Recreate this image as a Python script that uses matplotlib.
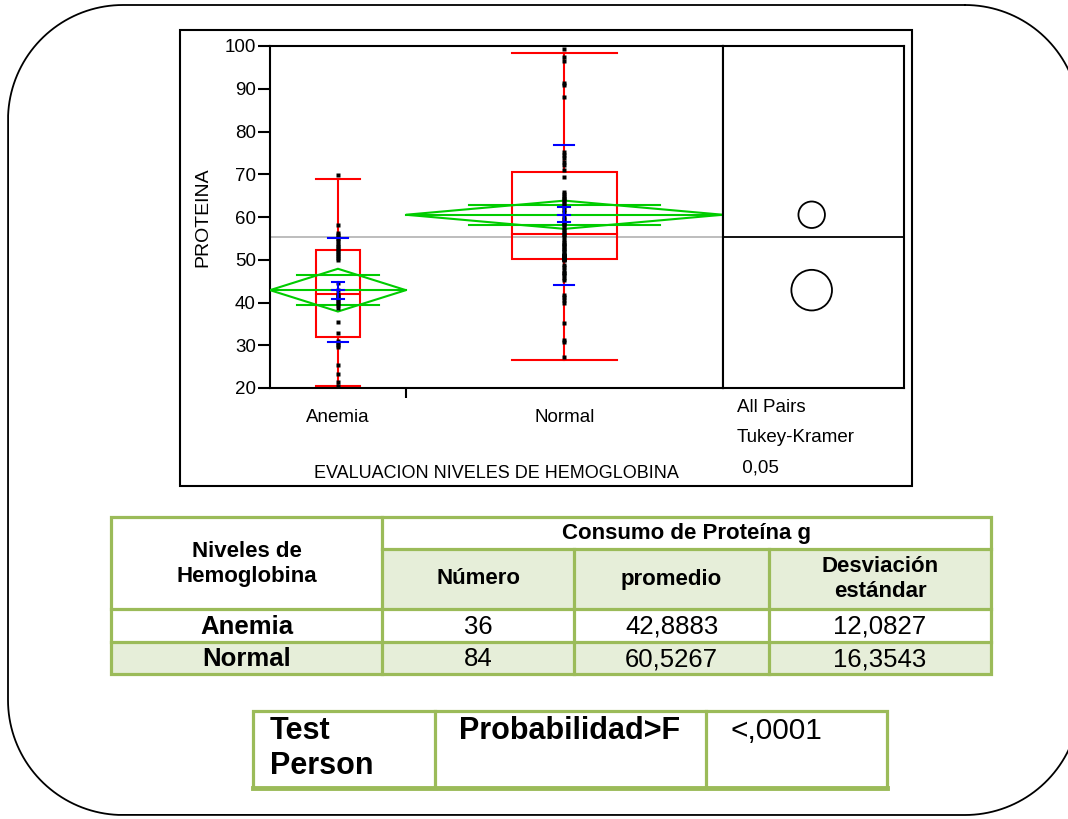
import numpy as np
import matplotlib.pyplot as plt
from matplotlib.patches import Rectangle, Polygon, Circle

plt.rcParams['font.family'] = ['Liberation Sans', 'DejaVu Sans']

## DATA
groups = ['Anemia', 'Normal']
n_obs = [36, 84]
means = [42.8883, 60.5267]
std_devs = [12.0827, 16.3543]

ci_half = [5.0, 3.3]          # half height of the means diamonds
box_q1 = [32.0, 50.2]
box_median = [42.1, 56.0]
box_q3 = [52.3, 70.6]
whisker_lo = [20.4, 26.6]
whisker_hi = [68.8, 98.3]
circle_radius = [4.75, 3.1]   # comparison circles (Tukey-Kramer)

anemia_pts = [69.8, 58.1, 56.3, 55.8, 55.3, 54.8, 54.3, 53.8, 53.3, 52.8, 52.3, 51.8,
              51.3, 50.8, 50.3, 50.0, 44.5, 42.9, 42.1, 41.5, 41.2, 40.8, 40.4, 40.0,
              39.4, 38.7, 35.5, 32.8, 30.9, 30.5, 30.1, 29.7, 25.4, 23.3, 21.3, 20.5]
normal_pts = [99.2, 97.4, 96.5, 91.3, 90.9, 88.1,
              75.3, 74.5, 73.7, 72.9, 72.2, 71.0, 69.4,
              65.9, 65.4, 64.9, 64.4, 64.2, 63.8, 63.3, 62.8, 62.3, 61.7, 61.2,
              60.1, 59.6, 59.1, 58.6, 58.4, 58.1, 57.5, 57.0, 56.5, 56.0, 55.8, 55.4,
              54.6, 54.1, 53.6, 53.4, 53.1, 52.6, 52.4, 52.1, 51.6, 51.1,
              51.05, 51.0, 50.95, 50.9, 50.85, 50.8, 50.75, 50.7, 50.65, 50.6, 50.55,
              50.5, 50.45, 50.4, 50.35, 50.3, 50.25, 50.2, 50.15, 50.1, 50.0, 49.9,
              48.8, 48.2, 47.6, 47.0, 46.8, 46.4, 45.8, 45.3,
              41.8, 41.2, 40.5, 39.9,
              35.1, 31.2, 30.8, 27.3]
points = [anemia_pts, normal_pts]

y_ticks = [20, 30, 40, 50, 60, 70, 80, 90, 100]
y_label = 'PROTEINA'
x_label = 'EVALUACION NIVELES DE HEMOGLOBINA'
compare_text = ['All Pairs', 'Tukey-Kramer', ' 0,05']

t1_first_header = 'Niveles de\nHemoglobina'
t1_group_header = 'Consumo de Proteína g'
t1_sub_headers = ['Número', 'promedio', 'Desviación\nestándar']
t2_cells = ['Test\nPerson', 'Probabilidad>F', '<,0001']

## LAYOUT
W, H = 1068, 819
RED, GREEN, BLUE = '#FF0000', '#00CC00', '#0000FF'
TGREEN, TFILL = '#9BBB59', '#E6EED9'


def fig_rect(x0, y0, x1, y1):
    # pixel box (top-left origin) -> figure fraction
    return [x0 / W, 1 - y1 / H, (x1 - x0) / W, (y1 - y0) / H]


def rounded_outline(x0, y0, x1, y1, r, n=40):
    # corner arcs of a rounded rectangle, y pointing down
    xs, ys = [], []
    corners = [(x1 - r, y0 + r, -90, 0), (x1 - r, y1 - r, 0, 90),
               (x0 + r, y1 - r, 90, 180), (x0 + r, y0 + r, 180, 270)]
    for cx_, cy_, a0, a1 in corners:
        t = np.radians(np.linspace(a0, a1, n))
        xs.extend(cx_ + r * np.cos(t))
        ys.extend(cy_ + r * np.sin(t))
    xs.append(xs[0])
    ys.append(ys[0])
    return xs, ys


fig = plt.figure(figsize=(W / 100, H / 100), dpi=100)

# background axes in pixel coordinates
bg = fig.add_axes([0, 0, 1, 1])
bg.set_xlim(0, W)
bg.set_ylim(H, 0)
bg.axis('off')

ox, oy = rounded_outline(8, 5, 1080, 815, 115)
bg.plot(ox, oy, color='black', lw=1.3, clip_on=False)
bg.add_patch(Rectangle((180, 30), 732, 456, fill=False, ec='black', lw=1.5))

# MAIN ONEWAY PLOT
ax = fig.add_axes(fig_rect(270, 46, 723, 388))
edges = np.concatenate([[0], np.cumsum(n_obs)])
centers = (edges[:-1] + edges[1:]) / 2
ax.set_xlim(edges[0], edges[-1])
ax.set_ylim(y_ticks[0], y_ticks[-1])

grand_mean = np.sum(np.array(means) * np.array(n_obs)) / np.sum(n_obs)
ax.axhline(grand_mean, color='#BDBDBD', lw=1.4, zorder=1)

px_per_unit = (723 - 270) / edges[-1]
for i in range(len(groups)):
    x0, x1, c = edges[i], edges[i + 1], centers[i]
    bh = 0.165 * n_obs[i]
    m = means[i]

    # outlier box plot
    ax.add_patch(Rectangle((c - bh, box_q1[i]), 2 * bh, box_q3[i] - box_q1[i],
                           fill=False, ec=RED, lw=1.5, zorder=2))
    ax.plot([c - bh, c + bh], [box_median[i]] * 2, color=RED, lw=1.5, zorder=2)
    ax.plot([c, c], [box_q3[i], whisker_hi[i]], color=RED, lw=1.5, zorder=2)
    ax.plot([c, c], [whisker_lo[i], box_q1[i]], color=RED, lw=1.5, zorder=2)
    ax.plot([c - bh, c + bh], [whisker_hi[i]] * 2, color=RED, lw=1.5, zorder=2)
    ax.plot([c - bh, c + bh], [whisker_lo[i]] * 2, color=RED, lw=1.5, zorder=2)

    # means diamond + overlap marks
    h = ci_half[i]
    ax.add_patch(Polygon([(x0, m), (c, m + h), (x1, m), (c, m - h)], closed=True,
                         fill=False, ec=GREEN, lw=1.5, zorder=3))
    ax.plot([x0, x1], [m, m], color=GREEN, lw=1.5, zorder=3)
    d = h / np.sqrt(2)
    ow = 0.3 * n_obs[i]
    ax.plot([c - ow, c + ow], [m + d] * 2, color=GREEN, lw=1.5, zorder=3)
    ax.plot([c - ow, c + ow], [m - d] * 2, color=GREEN, lw=1.5, zorder=3)

    # raw points
    ax.plot([c] * len(points[i]), points[i], 's', ms=2.3, color='black',
            mec='none', zorder=4)

    # mean, std err and std dev marks
    sd = std_devs[i]
    se = sd / np.sqrt(n_obs[i])
    sdw = 10 / px_per_unit
    sew = 6 / px_per_unit
    ax.plot([c - sdw, c + sdw], [m + sd] * 2, color=BLUE, lw=1.5, zorder=5)
    ax.plot([c - sdw, c + sdw], [m - sd] * 2, color=BLUE, lw=1.5, zorder=5)
    ax.plot([c, c], [m - se, m + se], color=BLUE, lw=1.5, zorder=5)
    for yy in [m - se, m, m + se]:
        ax.plot([c - sew, c + sew], [yy, yy], color=BLUE, lw=1.5, zorder=5)

ax.set_yticks(y_ticks)
ax.tick_params(axis='y', length=8.4, width=1.5, pad=1.7, labelsize=13.5)
ax.set_xticks(edges[1:-1])
ax.set_xticklabels([''] * (len(edges) - 2))
ax.tick_params(axis='x', which='major', length=7, width=1.5)
ax.set_xticks(centers, minor=True)
ax.set_xticklabels(groups, minor=True)
ax.tick_params(axis='x', which='minor', length=0, pad=15, labelsize=13.5)
for s in ax.spines.values():
    s.set_linewidth(1.5)

# COMPARISON CIRCLES PANEL
axp = fig.add_axes(fig_rect(723, 46, 904, 388))
xspan = (y_ticks[-1] - y_ticks[0]) * (904 - 723) / (388 - 46)
axp.set_xlim(0, xspan)
axp.set_ylim(y_ticks[0], y_ticks[-1])
axp.axhline(grand_mean, color='black', lw=1.3)
for m, r in zip(means, circle_radius):
    axp.add_patch(Circle((0.49 * xspan, m), r, fill=False, ec='black', lw=1.3))
axp.set_xticks([])
axp.set_yticks([])
for s in axp.spines.values():
    s.set_linewidth(1.5)

# axis texts
bg.text(203, 217, y_label, rotation=90, ha='center', va='center', fontsize=14)
bg.text(496, 474, x_label, ha='center', va='center', fontsize=13)
for k, t in enumerate(compare_text):
    bg.text(737, 408 + 30 * k, t, ha='left', va='center', fontsize=13.5)

# TABLE 1
cx = [111, 382, 574, 769, 991]
cy = [517, 549, 609, 642, 674]
bg.add_patch(Rectangle((cx[1], cy[1]), cx[4] - cx[1], cy[2] - cy[1], fc=TFILL, ec='none'))
bg.add_patch(Rectangle((cx[0], cy[3]), cx[4] - cx[0], cy[4] - cy[3], fc=TFILL, ec='none'))
lw_t = 2.3
bg.add_patch(Rectangle((cx[0], cy[0]), cx[4] - cx[0], cy[4] - cy[0], fill=False, ec=TGREEN, lw=lw_t))
bg.plot([cx[1], cx[1]], [cy[0], cy[4]], color=TGREEN, lw=lw_t)
for xx in cx[2:4]:
    bg.plot([xx, xx], [cy[1], cy[4]], color=TGREEN, lw=lw_t)
bg.plot([cx[1], cx[4]], [cy[1], cy[1]], color=TGREEN, lw=lw_t)
for yy in cy[2:4]:
    bg.plot([cx[0], cx[4]], [yy, yy], color=TGREEN, lw=lw_t)

bg.text((cx[0] + cx[1]) / 2, 564, t1_first_header, ha='center', va='center',
        fontsize=16, fontweight='bold', linespacing=1.25)
bg.text((cx[1] + cx[4]) / 2, (cy[0] + cy[1]) / 2 + 1, t1_group_header, ha='center',
        va='center', fontsize=16, fontweight='bold')
for j, t in enumerate(t1_sub_headers):
    bg.text((cx[j + 1] + cx[j + 2]) / 2, (cy[1] + cy[2]) / 2, t, ha='center', va='center',
            fontsize=16, fontweight='bold', linespacing=1.2)
for i, g in enumerate(groups):
    yc = (cy[2 + i] + cy[3 + i]) / 2 + 1
    row = [str(n_obs[i]), f'{means[i]:.4f}'.replace('.', ','),
           f'{std_devs[i]:.4f}'.replace('.', ',')]
    bg.text((cx[0] + cx[1]) / 2, yc, g, ha='center', va='center', fontsize=18.5,
            fontweight='bold')
    for j, t in enumerate(row):
        bg.text((cx[j + 1] + cx[j + 2]) / 2, yc, t, ha='center', va='center', fontsize=18.5)

# TABLE 2
tx = [253, 435, 706, 887]
ty = [711, 788]
bg.add_patch(Rectangle((tx[0], ty[0]), tx[3] - tx[0], ty[1] - ty[0], fill=False,
                       ec=TGREEN, lw=2.3))
bg.plot([tx[0], tx[3]], [ty[1], ty[1]], color=TGREEN, lw=3.5)
for xx in tx[1:3]:
    bg.plot([xx, xx], [ty[0], ty[1]], color=TGREEN, lw=2.3)
bg.text(270, 716, t2_cells[0], ha='left', va='top', fontsize=22, fontweight='bold',
        linespacing=1.2)
bg.text(459, 731, t2_cells[1], ha='left', va='center', fontsize=22, fontweight='bold')
bg.text(730, 731, t2_cells[2], ha='left', va='center', fontsize=21.5)

fig.savefig('out.png', dpi=100)
